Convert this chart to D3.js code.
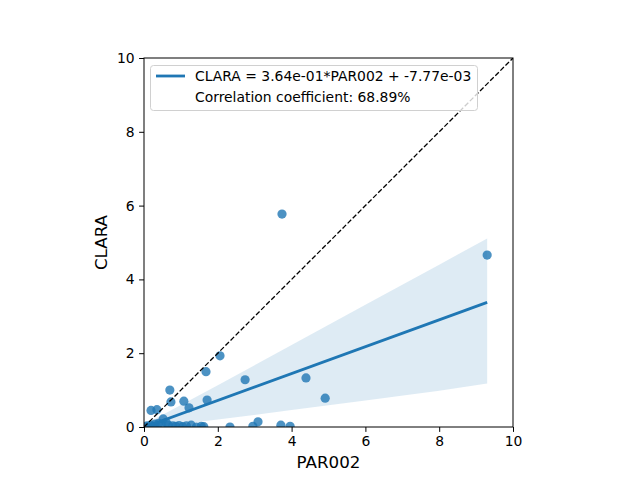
<!DOCTYPE html>
<html>
<head>
<meta charset="utf-8">
<title>CLARA vs PAR002</title>
<script src="https://d3js.org/d3.v7.min.js"></script>
<style>
  body { margin: 0; background: #fff; }
  text { font-family: "DejaVu Sans", sans-serif; }
</style>
</head>
<body>
<script>
// scatter values
const par002 = [3.74, 9.30, 2.06, 1.68, 0.70, 2.74, 4.39, 4.91, 1.08, 0.73, 1.71, 1.22, 0.19, 0.35, 0.52,
                3.09, 2.33, 2.95, 3.71, 3.96,
                0.02, 0.08, 0.12, 0.18, 0.25, 0.30, 0.40, 0.47, 0.60, 0.66, 0.78, 0.86, 0.95, 1.05, 1.15, 1.28, 1.42, 1.55, 1.62];
const clara  = [5.77, 4.66, 1.93, 1.50, 1.00, 1.28, 1.33, 0.78, 0.70, 0.68, 0.73, 0.52, 0.45, 0.47, 0.22,
                0.14, 0.00, 0.02, 0.05, 0.02,
                0.00, 0.03, 0.01, 0.05, 0.02, 0.08, 0.10, 0.06, 0.12, 0.05, 0.03, 0.02, 0.04, 0.01, 0.03, 0.05, 0.00, 0.02, 0.01];

// fit and confidence band
const slope = 0.364, intercept = -0.00777;
const bandX     = [0, 2, 4, 6, 8, 9.30];
const bandUpper = [0.06, 1.13, 2.22, 3.31, 4.40, 5.11];
const bandLower = [-0.04, 0.20, 0.46, 0.72, 0.98, 1.18];

const xTicks = [0, 2, 4, 6, 8, 10];
const yTicks = [0, 2, 4, 6, 8, 10];
const legendLines = ["CLARA = 3.64e-01*PAR002 + -7.77e-03", "Correlation coefficient: 68.89%"];

const w = 640, h = 480;
const m = {left: 144, right: 513, top: 58, bottom: 427};
const blue = "#1f77b4";

const xScale = d3.scaleLinear().domain([0, 10]).range([m.left, m.right]);
const yScale = d3.scaleLinear().domain([0, 10]).range([m.bottom, m.top]);

const svg = d3.select("body").append("svg").attr("width", w).attr("height", h);

svg.append("clipPath").attr("id", "plot")
    .append("rect").attr("x", m.left).attr("y", m.top)
    .attr("width", m.right - m.left).attr("height", m.bottom - m.top);

const plot = svg.append("g").attr("clip-path", "url(#plot)");

// band
const bandData = bandX.map((x, i) => ({x: x, hi: bandUpper[i], lo: bandLower[i]}));
plot.append("path")
    .datum(bandData)
    .attr("d", d3.area().x(d => xScale(d.x)).y0(d => yScale(d.lo)).y1(d => yScale(d.hi)))
    .attr("fill", blue).attr("fill-opacity", 0.15);

// points
plot.selectAll("circle").data(par002).enter().append("circle")
    .attr("cx", d => xScale(d))
    .attr("cy", (d, i) => yScale(clara[i]))
    .attr("r", 4.6)
    .attr("fill", blue).attr("fill-opacity", 0.8);

// regression line
const xmin = d3.min(par002), xmax = d3.max(par002);
plot.append("line")
    .attr("x1", xScale(xmin)).attr("y1", yScale(slope * xmin + intercept))
    .attr("x2", xScale(xmax)).attr("y2", yScale(slope * xmax + intercept))
    .attr("stroke", blue).attr("stroke-width", 2.8);

// 1:1 line
plot.append("line")
    .attr("x1", xScale(0)).attr("y1", yScale(0))
    .attr("x2", xScale(10)).attr("y2", yScale(10))
    .attr("stroke", "#000").attr("stroke-width", 1.3)
    .attr("stroke-dasharray", "5,2.2");

// axes
const xAxis = d3.axisBottom(xScale).tickValues(xTicks).tickSize(4.9).tickPadding(4.5).tickFormat(d3.format("d"));
const yAxis = d3.axisLeft(yScale).tickValues(yTicks).tickSize(4.9).tickPadding(4.5).tickFormat(d3.format("d"));

const gx = svg.append("g").attr("transform", "translate(0," + m.bottom + ")").call(xAxis);
const gy = svg.append("g").attr("transform", "translate(" + m.left + ",0)").call(yAxis);
[gx, gy].forEach(g => {
    g.select(".domain").remove();
    g.selectAll("text").attr("font-size", 13.9).attr("font-family", "DejaVu Sans").attr("fill", "#000");
    g.selectAll("line").attr("stroke", "#000").attr("stroke-width", 1);
});

svg.append("rect")
    .attr("x", m.left).attr("y", m.top)
    .attr("width", m.right - m.left).attr("height", m.bottom - m.top)
    .attr("fill", "none").attr("stroke", "#000").attr("stroke-width", 1);

svg.append("text").attr("x", (m.left + m.right) / 2).attr("y", 468)
    .attr("text-anchor", "middle").attr("font-size", 16.7).text("PAR002");
svg.append("text").attr("transform", "translate(107," + ((m.top + m.bottom) / 2) + ") rotate(-90)")
    .attr("text-anchor", "middle").attr("font-size", 16.7).text("CLARA");

// legend
const lg = svg.append("g");
lg.append("rect").attr("x", 150.5).attr("y", 65.5).attr("width", 327).attr("height", 45)
    .attr("rx", 3).attr("fill", "#fff").attr("fill-opacity", 0.8)
    .attr("stroke", "#d0d0d0").attr("stroke-width", 1);
lg.append("line").attr("x1", 156).attr("x2", 185).attr("y1", 76).attr("y2", 76)
    .attr("stroke", blue).attr("stroke-width", 2.8);
lg.selectAll("text.leg").data(legendLines).enter().append("text")
    .attr("class", "leg")
    .attr("x", 195).attr("y", (d, i) => 81 + i * 21)
    .attr("font-size", 13.9).text(d => d);
</script>
</body>
</html>
